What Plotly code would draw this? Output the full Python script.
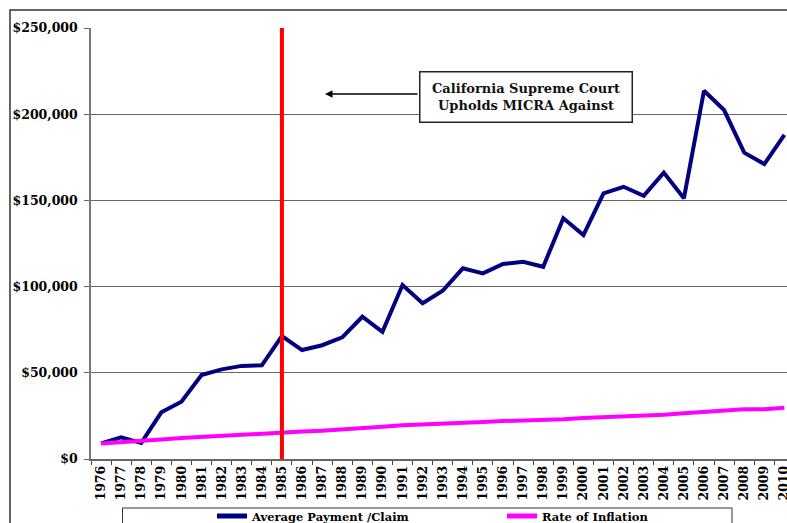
import plotly.graph_objects as go

years = [str(y) for y in range(1976, 2011)]
avg_payment = [9100, 12600, 9300, 27100, 33200, 48700, 52000, 54000, 54300, 71300,
               63200, 66000, 70600, 82500, 73800, 100900, 90300, 97600, 110600, 107700,
               113100, 114400, 111500, 139600, 129900, 154100, 157900, 152600, 166100, 151200,
               213600, 202400, 177700, 171100, 188000]
inflation = [9000, 9600, 10300, 11300, 12200, 12900, 13600, 14200, 14800, 15500,
             15900, 16400, 17000, 17800, 18700, 19600, 20200, 20700, 21100, 21500,
             22000, 22300, 22600, 23000, 23800, 24300, 24500, 25200, 25700, 26600,
             27300, 28000, 28800, 28800, 29700]
court_year = "1985"
note_text = "California Supreme Court<br>Upholds MICRA Against"

W, H = 787, 523
L, R, T, B = 91, 0, 28, 64
pw, ph = W - L - R, H - T - B

def px(x):
    return (x - L) / pw

def py(y):
    return (H - B - y) / ph

serif = "DejaVu Serif"

fig = go.Figure()
fig.add_trace(go.Scatter(x=years, y=avg_payment, mode="lines", name="Average Payment /Claim",
                         line=dict(color="#000080", width=4)))
fig.add_trace(go.Scatter(x=years, y=inflation, mode="lines", name="Rate of Inflation",
                         line=dict(color="#FF00FF", width=4)))

ci = years.index(court_year)
shapes = [
    # outer chart frame
    dict(type="rect", xref="paper", yref="paper", x0=px(10), x1=1.1, y0=-0.3, y1=py(10),
         line=dict(color="#333333", width=1.5), fillcolor="rgba(0,0,0,0)", layer="below"),
    # court decision line
    dict(type="line", xref="x", yref="paper", x0=ci, x1=ci, y0=0, y1=1,
         line=dict(color="#FF0000", width=4)),
    # legend frame
    dict(type="rect", xref="paper", yref="paper", x0=px(122.5), x1=px(732), y0=py(524), y1=py(508),
         line=dict(color="#333333", width=1), fillcolor="white", layer="below"),
]

annotations = [
    dict(xref="paper", yref="paper", x=px(325), y=py(94), ax=94, ay=0, text="",
         showarrow=True, arrowhead=2, arrowsize=1, arrowwidth=1.5, arrowcolor="black"),
    dict(xref="paper", yref="paper", x=px(525.5), y=py(96.5), text=note_text,
         showarrow=False, font=dict(family=serif, size=13, color="#111111", weight="bold"),
         bgcolor="white", bordercolor="#222222", borderwidth=1.5, borderpad=0,
         width=211, height=49, align="center", xanchor="center", yanchor="middle"),
]

fig.update_layout(
    width=W, height=H,
    margin=dict(l=L, r=R, t=T, b=B, autoexpand=False),
    paper_bgcolor="white", plot_bgcolor="white",
    showlegend=True,
    legend=dict(orientation="h", x=px(212), y=py(516), xanchor="left", yanchor="middle",
                entrywidth=245, entrywidthmode="pixels", bgcolor="rgba(0,0,0,0)",
                borderwidth=0, font=dict(family=serif, size=11.5, color="black", weight="bold"),
                itemsizing="constant", tracegroupgap=0),
    shapes=shapes,
    annotations=annotations,
)

fig.update_xaxes(type="category", range=[-0.5, 34.13], tickangle=-90,
                 tickson="boundaries", ticks="outside", ticklen=4, tickcolor="#444",
                 showline=True, linecolor="#666", linewidth=1.5, showgrid=False,
                 tickfont=dict(family=serif, size=12.5, color="black", weight="bold"))
fig.update_yaxes(range=[0, 250000], dtick=50000, tickformat="$,",
                 ticks="outside", ticklen=5, tickcolor="#666", ticklabelstandoff=4,
                 showline=True, linecolor="#777", linewidth=1.5,
                 showgrid=True, gridcolor="#666666", gridwidth=1, zeroline=False,
                 tickfont=dict(family=serif, size=12.5, color="black", weight="bold"))

fig.write_html("out.html", config={"displayModeBar": False},
               post_script="document.body.style.margin='0';document.body.style.overflow='hidden';")
